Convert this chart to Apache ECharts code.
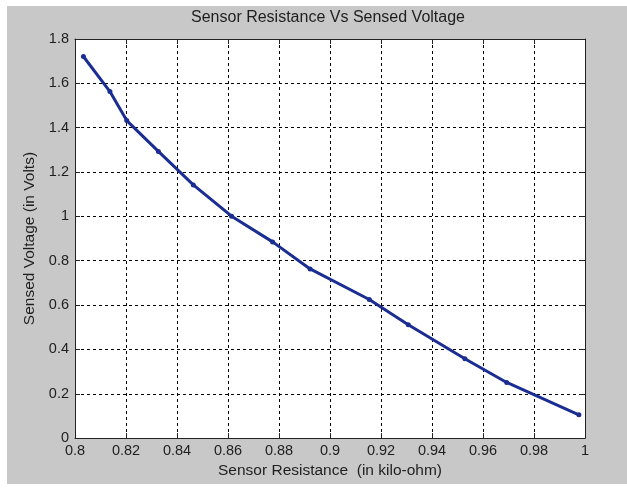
<!DOCTYPE html>
<html>
<head>
<meta charset="utf-8">
<script src="https://cdn.jsdelivr.net/npm/echarts@6/dist/echarts.min.js"></script>
<style>
html,body{margin:0;padding:0;background:#fff;}
#wrap{position:relative;width:627px;height:493px;background:#fff;}
#chart{position:absolute;left:7px;top:6px;width:620px;height:478px;}
</style>
</head>
<body>
<div id="wrap"><div id="chart"></div></div>
<script>
// Data
const resistance = [0.8033, 0.8137, 0.8203, 0.8327, 0.8464, 0.8614, 0.8775, 0.8922, 0.9154, 0.9307, 0.9529, 0.9693, 0.9976];
const voltage    = [1.721, 1.563, 1.432, 1.293, 1.142, 1.001, 0.885, 0.763, 0.625, 0.511, 0.358, 0.251, 0.105];
const xTicks = [0.8, 0.82, 0.84, 0.86, 0.88, 0.9, 0.92, 0.94, 0.96, 0.98, 1];
const yTicks = [0, 0.2, 0.4, 0.6, 0.8, 1, 1.2, 1.4, 1.6, 1.8];
const titleText = 'Sensor Resistance Vs Sensed Voltage';
const xName = 'Sensor Resistance  (in kilo-ohm)';
const yName = 'Sensed Voltage (in Volts)';

const FONT = '"Liberation Sans", Arial, sans-serif';
const TXT = '#1e1e1e';
const xMin = xTicks[0], xMax = xTicks[xTicks.length - 1], xInt = +(xTicks[1] - xTicks[0]).toFixed(4);
const yMin = yTicks[0], yMax = yTicks[yTicks.length - 1], yInt = +(yTicks[1] - yTicks[0]).toFixed(4);
const fmt = v => String(+v.toFixed(4));

const chart = echarts.init(document.getElementById('chart'), null, {renderer: 'canvas'});
const baseAxis = {
  axisLine: {show: true, onZero: false, lineStyle: {color: '#222', width: 1}},
  axisTick: {show: true, inside: true, length: 5, lineStyle: {color: '#222'}},
};
chart.setOption({
  backgroundColor: '#c8c8c8',
  animation: false,
  textStyle: {fontFamily: FONT},
  title: {
    text: titleText, left: 321, top: 4, textAlign: 'center', padding: 0,
    textStyle: {fontFamily: FONT, fontSize: 16, fontWeight: 'normal', color: TXT}
  },
  grid: {left: 68, top: 33, width: 510, height: 404, show: true, backgroundColor: '#fff', borderWidth: 0},
  xAxis: [
    Object.assign({}, baseAxis, {
      type: 'value', position: 'bottom', min: xMin, max: xMax, interval: xInt,
      name: xName, nameLocation: 'middle', nameGap: 24,
      nameTextStyle: {fontFamily: FONT, fontSize: 15.5, color: TXT},
      axisLabel: {fontFamily: FONT, fontSize: 14.5, color: TXT, margin: 5, formatter: fmt},
      splitLine: {show: true, lineStyle: {color: '#000', width: 1, type: [3, 3]}}
    }),
    Object.assign({}, baseAxis, {
      type: 'value', position: 'top', min: xMin, max: xMax, interval: xInt,
      axisLabel: {show: false}, splitLine: {show: false}
    })
  ],
  yAxis: [
    Object.assign({}, baseAxis, {
      type: 'value', position: 'left', min: yMin, max: yMax, interval: yInt,
      name: yName, nameLocation: 'middle', nameGap: 36, nameRotate: 90,
      nameTextStyle: {fontFamily: FONT, fontSize: 15.5, color: TXT},
      axisLabel: {fontFamily: FONT, fontSize: 14.5, color: TXT, margin: 6, formatter: fmt},
      splitLine: {show: true, lineStyle: {color: '#000', width: 1, type: [3, 3]}}
    }),
    Object.assign({}, baseAxis, {
      type: 'value', position: 'right', min: yMin, max: yMax, interval: yInt,
      axisLabel: {show: false}, splitLine: {show: false}
    })
  ],
  series: [{
    type: 'line',
    xAxisIndex: 0, yAxisIndex: 0,
    data: resistance.map((r, i) => [r, voltage[i]]),
    symbol: 'circle', symbolSize: 5, showSymbol: true,
    lineStyle: {color: '#1a2d92', width: 3},
    itemStyle: {color: '#1a2d92'},
    z: 5
  }]
});
</script>
</body>
</html>
